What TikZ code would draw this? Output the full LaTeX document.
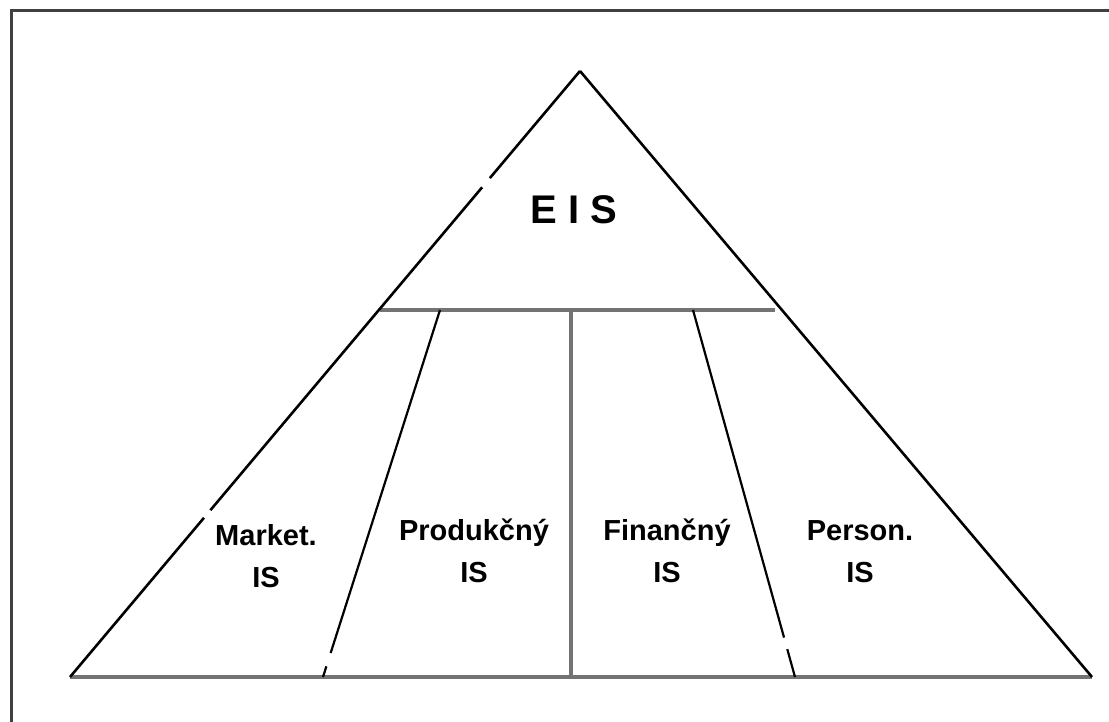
\documentclass[tikz,border=0pt]{standalone}
\usepackage{fontspec}
\newfontfamily\isfont{Liberation Sans}
\usepackage{tikz}
\usetikzlibrary{positioning}

\begin{document}
\begin{tikzpicture}[x=1pt,y=-1pt,
  edge/.style={line width=2.6pt,black},
  divider/.style={line width=2.2pt,black},
  bar/.style={line width=3.6pt,black!55},
  islabel/.style={font=\isfont\bfseries\fontsize{29}{42}\selectfont,
    align=center,anchor=base,inner sep=0pt}]

  \useasboundingbox (0,0) rectangle (1109,722);

  %frame, only top and left are seen
  \draw [line width=3pt,black!75] (11,722) -- (11,11) -- (1109,11);

  \coordinate (apex) at (580,71);
  \coordinate (bl) at (70,677);
  \coordinate (br) at (1092,677);
  \coordinate (ml) at (380,310);
  \coordinate (mr) at (775,310);
  \coordinate (mt) at (571,310);
  \coordinate (mb) at (571,677);
  \coordinate (lt) at (440,310);
  \coordinate (lb) at (323,677);
  \coordinate (rt) at (693,310);
  \coordinate (rb) at (795,677);

  \draw [bar] (bl) -- (br);
  \draw [bar] (ml) -- (mr);
  \draw [bar] (mt) -- (mb);

  \draw [edge,dash pattern=on 140pt off 12pt on 422pt off 10pt on 300pt] (apex) -- (bl);
  \draw [edge] (apex) -- (br);

  \draw [divider,dash pattern=on 360pt off 14pt on 40pt] (lt) -- (lb);
  \draw [divider,dash pattern=on 340pt off 12pt on 40pt] (rt) -- (rb);

  \node [font=\isfont\bfseries\fontsize{40}{48}\selectfont,anchor=base,inner sep=0pt] (eis) at (574,224) {E I S};

  % base anchor sits on the last line
  \node [islabel] (market) at (266,587) {Market.\\IS};
  \node [islabel] (prod) at (474,582) {Produkčný\\IS};
  \node [islabel] (fin) at (667,582) {Finančný\\IS};
  \node [islabel] (pers) at (860,582) {Person.\\IS};

\end{tikzpicture}
\end{document}
